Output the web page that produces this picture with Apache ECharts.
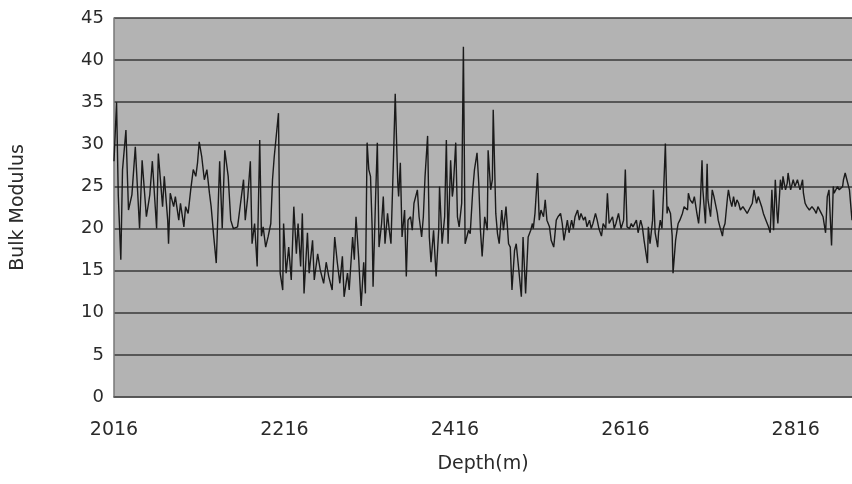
<!DOCTYPE html>
<html>
<head>
<meta charset="utf-8">
<script src="https://cdn.jsdelivr.net/npm/echarts@6/dist/echarts.min.js"></script>
<style>
html,body{margin:0;padding:0;background:#fff;}
#chart{width:852px;height:484px;}
</style>
</head>
<body>
<div id="chart"></div>
<script>
var depth = [
2016,2019,2021,2024,2026,2030,2033,2037,2041,2046,2049,2054,2058,2061,2066,2068,2073,2075,2079,2080,
2082,2086,2088,2092,2094,2098,2100,2103,2106,2109,2112,2114,2116,2119,2122,2125,2128,2130,2133,2136,
2140,2143,2146,2150,2153,2156,2161,2164,2168,2170,2173,2176,2178,2181,2184,2187,2189,2191,2194,2197,
2200,2202,2204,2209,2211,2214,2215,2218,2221,2224,2227,2230,2232,2235,2237,2239,2243,2245,2249,2251,
2255,2258,2262,2265,2268,2272,2275,2278,2281,2284,2286,2290,2292,2296,2298,2300,2303,2306,2309,2311,
2313,2315,2317,2319,2320,2323,2325,2327,2330,2332,2334,2337,2339,2341,2344,2346,2349,2350,2352,2354,
2357,2359,2361,2364,2366,2368,2372,2374,2377,2379,2381,2384,2386,2388,2391,2394,2397,2398,2401,2404,
2406,2408,2411,2413,2414,2417,2419,2421,2424,2426,2428,2432,2434,2437,2439,2442,2444,2446,2448,2451,
2454,2455,2458,2460,2461,2464,2466,2468,2471,2473,2476,2479,2481,2483,2486,2488,2491,2494,2496,2499,
2502,2505,2507,2508,2510,2513,2515,2517,2520,2522,2524,2527,2529,2532,2535,2537,2540,2542,2544,2548,
2550,2553,2555,2557,2560,2562,2564,2567,2569,2571,2574,2576,2578,2581,2583,2585,2588,2590,2593,2595,
2597,2601,2603,2605,2608,2611,2614,2616,2618,2621,2623,2625,2629,2631,2634,2636,2638,2642,2643,2645,
2648,2649,2651,2654,2655,2657,2659,2661,2663,2665,2666,2669,2671,2672,2675,2677,2678,2680,2683,2685,
2689,2690,2692,2695,2697,2700,2702,2704,2706,2707,2710,2712,2713,2716,2718,2720,2724,2725,2727,2730,
2731,2733,2736,2737,2739,2741,2743,2745,2747,2749,2751,2754,2759,2761,2765,2767,2770,2772,2776,2778,
2781,2784,2786,2788,2790,2792,2794,2795,2798,2800,2801,2804,2806,2807,2810,2812,2813,2815,2818,2819,
2821,2824,2825,2827,2829,2832,2835,2838,2840,2842,2846,2848,2851,2853,2855,2858,2860,2861,2865,2867,
2871,2872,2874,2876,2879,2882
];
var bulkModulus = [
28,35,24,16.3,27,31.7,22.2,24,29.7,20,28.1,21.4,24,28,20,28.9,22.6,26.2,21,18.2,
24.2,22.6,23.8,21,23,20.2,22.6,21.8,24.6,27,26.2,27.8,30.3,28.5,25.8,27,24.2,22.6,19.1,15.9,
28,20,29.3,26.2,21,20,20.2,22.6,25.8,21,23.8,28,18.2,20.6,15.5,30.5,19.1,20.2,17.8,19.1,
20.6,25.8,28.5,33.7,14.7,12.7,20.6,14.7,17.8,13.9,22.6,17,20.6,15.5,21.8,12.3,19.5,14.7,18.6,13.9,
17,15.1,13.5,16,14.3,12.7,19,16,13.5,16.7,11.9,14.7,12.7,19,16.3,21.4,16.7,10.8,16,12.3,
30.2,27,26.2,19.8,13.1,23.8,30.2,17.8,20.6,23.8,18.2,21.8,19.8,18.2,28.5,36,25.4,23.8,27.8,19,
22.2,14.3,21,21.4,19.8,23,24.6,21.4,19,21.4,26.2,31,19,16,19.8,14.3,19.8,25,18.2,21.4,
30.5,18.2,28.1,23.8,24.6,30.2,21.4,20.2,23,41.6,18.2,19.8,19.4,24.6,27,29,25.4,19.8,16.7,21.4,
19.8,29.3,24.6,25.8,34.1,21.8,19.4,18.2,22.2,19.8,22.6,18.2,17.8,12.7,17.4,18.2,15.1,11.9,19,12.3,
19,19.8,20.6,20,21.8,26.6,21,22.2,21.4,23.4,21,20.2,18.6,17.8,21,21.4,21.8,20.6,18.6,21,
19.5,21,20,21.4,22.2,21,21.8,21,21.4,20.2,21,20,20.6,21.8,21,20,19.1,20.6,20,24.2,
20.6,21.4,20,20.6,21.8,20,21,27,20.2,20,20.6,20.2,21,19.5,21,20.2,18.6,15.9,20.2,18.2,
21,24.6,19.5,17.8,19.5,21,20,24.6,30.1,21.8,22.6,21.8,19.1,14.7,18.6,20,20.6,21,21.8,22.6,
22.2,24.2,23.4,23,23.8,21.8,20.6,23,28.1,24.6,20.6,27.7,23.4,21.4,24.6,23.8,21.8,21,20.2,19.1,
20,20.6,23.8,24.6,23.4,22.6,23.8,22.6,23.4,23,22.2,22.6,21.8,22.2,23,24.6,23,23.8,22.6,21.8,
21,20.2,19.5,24.6,19.8,25.8,21.8,20.6,25.8,24.6,26.2,24.6,25.4,26.6,24.6,25.4,25.8,25,25.8,25.4,
24.6,25.8,24.2,23,22.6,22.2,22.6,22.2,21.8,22.6,21.8,21.4,19.5,23.8,24.6,18,25,24.2,25,24.6,
25,25.8,26.6,25.8,24.6,21
];
var xTickLabels = [2016, 2216, 2416, 2616, 2816];
var yMin = 0, yMax = 45, yStep = 5;

var pairs = depth.map(function (d, i) { return [d, bulkModulus[i]]; });

var chart = echarts.init(document.getElementById('chart'), null, {renderer: 'canvas'});
chart.setOption({
  animation: false,
  backgroundColor: '#ffffff',
  grid: {
    left: 114, right: 0, top: 18, bottom: 87,
    show: true, backgroundColor: '#b3b3b3', borderWidth: 0
  },
  xAxis: {
    type: 'value',
    min: 2016, max: 2882, interval: 200,
    name: 'Depth(m)', nameLocation: 'middle', nameGap: 58,
    nameTextStyle: {fontFamily: 'DejaVu Sans', fontSize: 19, color: '#2a2a2a'},
    axisLine: {show: true, lineStyle: {color: '#555', width: 1.5}},
    axisTick: {show: false},
    splitLine: {show: false},
    axisLabel: {
      margin: 24, fontFamily: 'DejaVu Sans', fontSize: 19, color: '#2a2a2a',
      showMaxLabel: false,
      formatter: function (v) { return xTickLabels.indexOf(Math.round(v)) >= 0 ? String(Math.round(v)) : ''; }
    }
  },
  yAxis: {
    type: 'value',
    min: yMin, max: yMax, interval: yStep,
    name: 'Bulk Modulus', nameLocation: 'middle', nameGap: 86, nameRotate: 90,
    nameTextStyle: {fontFamily: 'DejaVu Sans', fontSize: 19, color: '#2a2a2a'},
    axisLine: {show: true, lineStyle: {color: '#777', width: 1.5}},
    axisTick: {show: false},
    axisLabel: {margin: 10, fontFamily: 'DejaVu Sans', fontSize: 18, color: '#2a2a2a'},
    splitLine: {show: true, lineStyle: {color: '#383838', width: 1.5}}
  },
  series: [{
    type: 'line',
    data: pairs,
    showSymbol: false,
    symbol: 'none',
    lineStyle: {color: '#1a1a1a', width: 1.4},
    z: 3
  }]
});
</script>
</body>
</html>
